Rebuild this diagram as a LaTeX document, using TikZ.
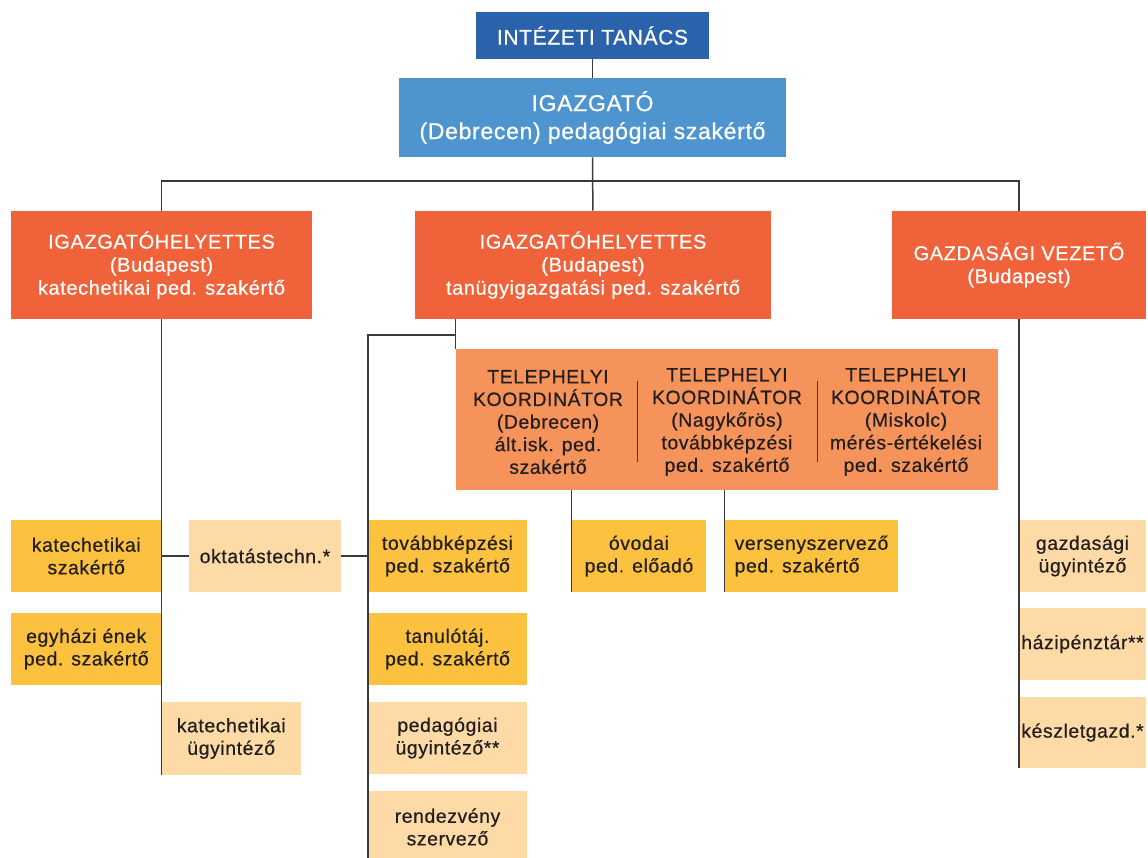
\documentclass[tikz,border=0pt]{standalone}
\usepackage{fontspec}
\setmainfont{Liberation Sans}[LetterSpace=3, FakeBold=0.6]
\definecolor{tanacs}{HTML}{2A62AC}
\definecolor{igazgato}{HTML}{4E95D0}
\definecolor{vezeto}{HTML}{F0633A}
\definecolor{koord}{HTML}{F5935A}
\definecolor{sarga}{HTML}{FCC13E}
\definecolor{halvany}{HTML}{FDDAA6}
\definecolor{vonal}{HTML}{3A3A3A}
\definecolor{szoveg}{HTML}{231F20}
\tikzset{
    every node/.style={rectangle, inner sep=0pt, align=center, text=szoveg,
    	font=\fontsize{9.7}{11.3}\selectfont},
    box/.style 2 args={minimum width=#1*0.5pt, minimum height=#2*0.5pt},
    fej/.style={text=white, font=\fontsize{10}{11.5}\selectfont},
    sarga/.style={fill=sarga},
    halvany/.style={fill=halvany},
    kapcs/.style={draw=vonal, line width=0.75pt},
    sep/.style={draw=vonal, line width=0.5pt}
}

\begin{document}
\begin{tikzpicture}[x=0.5pt, y=-0.5pt]
	\useasboundingbox (0,0) rectangle (1148,858);
	% vezetes
	\node [box={233}{47}, fill=tanacs, fej, font=\fontsize{10.5}{12}\selectfont] (it) at (592.5,35.5) {INTÉZETI TANÁCS};
	\node [box={387}{79}, fill=igazgato, fej, font=\fontsize{11.5}{14}\selectfont] (ig) at (592.5,117.5) {IGAZGATÓ\\(Debrecen) pedagógiai szakértő};
	\node [box={301}{108}, fill=vezeto, fej] (ih1) at (161.5,265) {IGAZGATÓHELYETTES\\(Budapest)\\katechetikai ped. szakértő};
	\node [box={356}{108}, fill=vezeto, fej] (ih2) at (593,265) {IGAZGATÓHELYETTES\\(Budapest)\\tanügyigazgatási ped. szakértő};
	\node [box={254}{108}, fill=vezeto, fej] (gv) at (1019,265) {GAZDASÁGI VEZETŐ\\(Budapest)};
	% telephelyi koordinatorok
	\node [box={542}{141}, fill=koord] (tk) at (727,419.5) {};
	\node (tk1) at (548,422) {TELEPHELYI\\KOORDINÁTOR\\(Debrecen)\\ált.isk. ped.\\szakértő};
	\node (tk2) at (727,422) {TELEPHELYI\\KOORDINÁTOR\\(Nagykőrös)\\továbbképzési\\ped. szakértő};
	\node (tk3) at (906,422) {TELEPHELYI\\KOORDINÁTOR\\(Miskolc)\\mérés-értékelési\\ped. szakértő};
	\draw [sep] (637,381) -- (637,462);
	\draw [sep] (817,381) -- (817,462);
	% bal oldal
	\node [box={150.5}{72}, sarga] (ksz) at (86.25,556) {katechetikai\\szakértő};
	\node [box={150.5}{72}, sarga] (egy) at (86.25,649) {egyházi ének\\ped. szakértő};
	\node [box={139.5}{73}, halvany] (kui) at (231.25,738.5) {katechetikai\\ügyintéző};
	\node [box={152}{72}, halvany] (okt) at (265,556) {oktatástechn.*};
	% kozep
	\node [box={159}{72}, sarga] (tkp) at (447.5,556) {továbbképzési\\ped. szakértő};
	\node [box={159}{72}, sarga] (tan) at (447.5,649) {tanulótáj.\\ped. szakértő};
	\node [box={159}{72}, halvany] (pui) at (447.5,738) {pedagógiai\\ügyintéző**};
	\node [box={159}{72}, halvany] (rsz) at (447.5,827) {rendezvény\\szervező};
	\node [box={134}{72}, sarga] (ov) at (639,556) {óvodai\\ped. előadó};
	\node [box={173}{72}, sarga, align=left] (vs) at (811.5,556) {versenyszervező\\ped. szakértő};
	% jobb oldal
	\node [box={127}{72}, halvany] (gu) at (1082.5,556) {gazdasági\\ügyintéző};
	\node [box={127}{72}, halvany] (hp) at (1082.5,644) {házipénztár**};
	\node [box={127}{71}, halvany] (kg) at (1082.5,732.5) {készletgazd.*};
	% vonalak
	\coordinate (bus) at (592.5,181);
	\coordinate (mj) at (456,335);
	\coordinate (kvege) at (161.5,775);
	\coordinate (mvege) at (368,860);
	\coordinate (gvege) at (1019,768);
	\draw [kapcs] (it) -- (ig);
	\draw [kapcs] (ig) -- (ih2);
	\draw [kapcs] (ih1.north) |- (bus) -| (gv.north);
	\draw [kapcs] (ih1.south) -- (kvege);
	\draw [kapcs] (ksz.east) -- (okt.west);
	\draw [kapcs] (okt.east) -- (tkp.west);
	\draw [kapcs] (ih2.south -| tk.west) -- (tk.north west);
	\draw [kapcs] (mj) -| (mvege);
	\draw [kapcs] (tk.south -| ov.west) -- (ov.south west);
	\draw [kapcs] (tk.south -| vs.west) -- (vs.south west);
	\draw [kapcs] (gv.south) -- (gvege);
\end{tikzpicture}
\end{document}
